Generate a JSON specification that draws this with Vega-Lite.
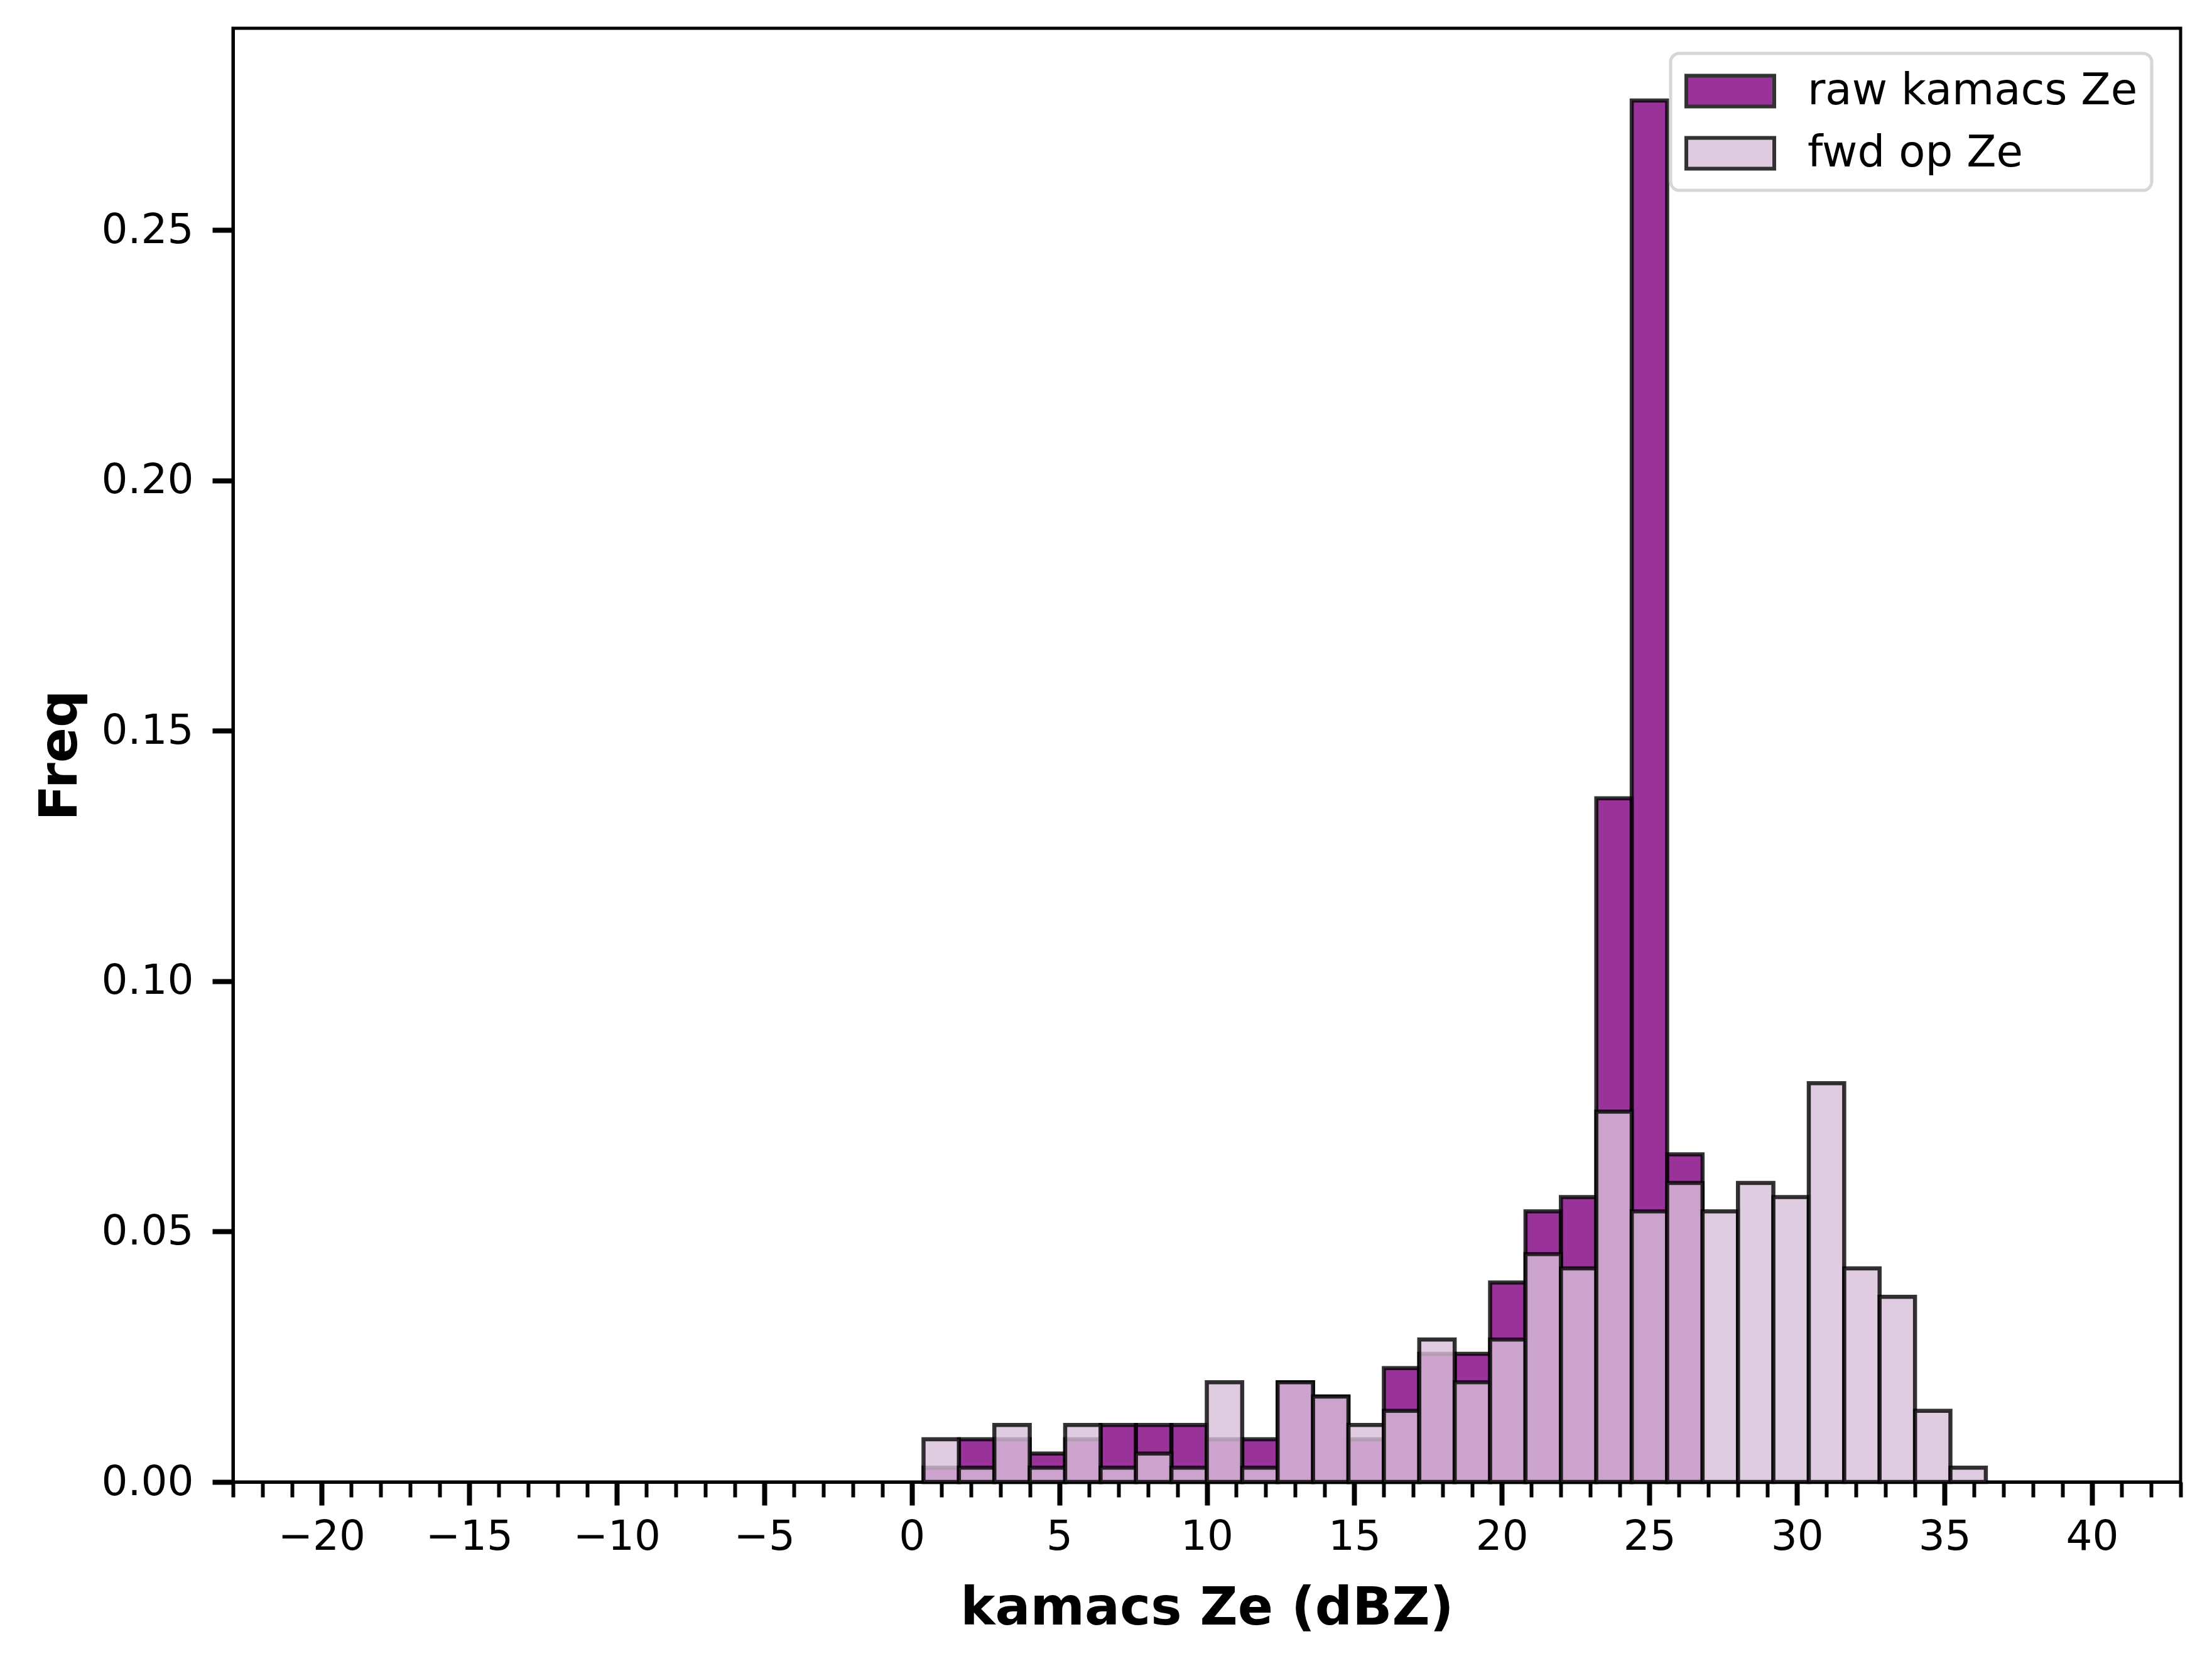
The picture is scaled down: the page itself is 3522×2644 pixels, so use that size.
{
  "$schema": "https://vega.github.io/schema/vega-lite/v6.json",
  "autosize": "none",
  "width": 3101,
  "height": 2314,
  "padding": {"left": 371, "top": 45, "right": 50, "bottom": 285},
  "background": "white",
  "datasets": {
    "raw": [
      {"series": "raw kamacs Ze", "start": 0.4, "end": 1.6, "freq": 0.002844},
      {"series": "raw kamacs Ze", "start": 1.6, "end": 2.8, "freq": 0.008532},
      {"series": "raw kamacs Ze", "start": 2.8, "end": 4.0, "freq": 0.008532},
      {"series": "raw kamacs Ze", "start": 4.0, "end": 5.2, "freq": 0.005688},
      {"series": "raw kamacs Ze", "start": 5.2, "end": 6.4, "freq": 0.008532},
      {"series": "raw kamacs Ze", "start": 6.4, "end": 7.6, "freq": 0.011377},
      {"series": "raw kamacs Ze", "start": 7.6, "end": 8.8, "freq": 0.011377},
      {"series": "raw kamacs Ze", "start": 8.8, "end": 10.0, "freq": 0.011377},
      {"series": "raw kamacs Ze", "start": 10.0, "end": 11.2, "freq": 0.008532},
      {"series": "raw kamacs Ze", "start": 11.2, "end": 12.4, "freq": 0.008532},
      {"series": "raw kamacs Ze", "start": 12.4, "end": 13.6, "freq": 0.019909},
      {"series": "raw kamacs Ze", "start": 13.6, "end": 14.8, "freq": 0.017065},
      {"series": "raw kamacs Ze", "start": 14.8, "end": 16.0, "freq": 0.008532},
      {"series": "raw kamacs Ze", "start": 16.0, "end": 17.2, "freq": 0.022753},
      {"series": "raw kamacs Ze", "start": 17.2, "end": 18.4, "freq": 0.025597},
      {"series": "raw kamacs Ze", "start": 18.4, "end": 19.6, "freq": 0.025597},
      {"series": "raw kamacs Ze", "start": 19.6, "end": 20.8, "freq": 0.039818},
      {"series": "raw kamacs Ze", "start": 20.8, "end": 22.0, "freq": 0.054039},
      {"series": "raw kamacs Ze", "start": 22.0, "end": 23.2, "freq": 0.056883},
      {"series": "raw kamacs Ze", "start": 23.2, "end": 24.4, "freq": 0.136519},
      {"series": "raw kamacs Ze", "start": 24.4, "end": 25.6, "freq": 0.275882},
      {"series": "raw kamacs Ze", "start": 25.6, "end": 26.8, "freq": 0.065415}
    ],
    "fwd": [
      {"series": "fwd op Ze", "start": 0.4, "end": 1.6, "freq": 0.008532},
      {"series": "fwd op Ze", "start": 1.6, "end": 2.8, "freq": 0.002844},
      {"series": "fwd op Ze", "start": 2.8, "end": 4.0, "freq": 0.011377},
      {"series": "fwd op Ze", "start": 4.0, "end": 5.2, "freq": 0.002844},
      {"series": "fwd op Ze", "start": 5.2, "end": 6.4, "freq": 0.011377},
      {"series": "fwd op Ze", "start": 6.4, "end": 7.6, "freq": 0.002844},
      {"series": "fwd op Ze", "start": 7.6, "end": 8.8, "freq": 0.005688},
      {"series": "fwd op Ze", "start": 8.8, "end": 10.0, "freq": 0.002844},
      {"series": "fwd op Ze", "start": 10.0, "end": 11.2, "freq": 0.019909},
      {"series": "fwd op Ze", "start": 11.2, "end": 12.4, "freq": 0.002844},
      {"series": "fwd op Ze", "start": 12.4, "end": 13.6, "freq": 0.019909},
      {"series": "fwd op Ze", "start": 13.6, "end": 14.8, "freq": 0.017065},
      {"series": "fwd op Ze", "start": 14.8, "end": 16.0, "freq": 0.011377},
      {"series": "fwd op Ze", "start": 16.0, "end": 17.2, "freq": 0.014221},
      {"series": "fwd op Ze", "start": 17.2, "end": 18.4, "freq": 0.028441},
      {"series": "fwd op Ze", "start": 18.4, "end": 19.6, "freq": 0.019909},
      {"series": "fwd op Ze", "start": 19.6, "end": 20.8, "freq": 0.028441},
      {"series": "fwd op Ze", "start": 20.8, "end": 22.0, "freq": 0.045506},
      {"series": "fwd op Ze", "start": 22.0, "end": 23.2, "freq": 0.042662},
      {"series": "fwd op Ze", "start": 23.2, "end": 24.4, "freq": 0.073948},
      {"series": "fwd op Ze", "start": 24.4, "end": 25.6, "freq": 0.054039},
      {"series": "fwd op Ze", "start": 25.6, "end": 26.8, "freq": 0.059727},
      {"series": "fwd op Ze", "start": 26.8, "end": 28.0, "freq": 0.054039},
      {"series": "fwd op Ze", "start": 28.0, "end": 29.2, "freq": 0.059727},
      {"series": "fwd op Ze", "start": 29.2, "end": 30.4, "freq": 0.056883},
      {"series": "fwd op Ze", "start": 30.4, "end": 31.6, "freq": 0.079636},
      {"series": "fwd op Ze", "start": 31.6, "end": 32.8, "freq": 0.042662},
      {"series": "fwd op Ze", "start": 32.8, "end": 34.0, "freq": 0.036974},
      {"series": "fwd op Ze", "start": 34.0, "end": 35.2, "freq": 0.014221},
      {"series": "fwd op Ze", "start": 35.2, "end": 36.4, "freq": 0.002844}
    ]
  },
  "layer": [
    {
      "data": {"name": "raw"},
      "mark": {"type": "rect", "fillOpacity": 0.8, "stroke": "black", "strokeOpacity": 0.8, "strokeWidth": 6.5},
      "encoding": {
        "x": {
          "field": "start",
          "type": "quantitative",
          "scale": {"domain": [-23, 43], "nice": false, "zero": false},
          "axis": {
            "orient": "bottom",
            "values": [-20, -15, -10, -5, 0, 5, 10, 15, 20, 25, 30, 35, 40],
            "title": "kamacs Ze (dBZ)",
            "tickSize": 37,
            "tickWidth": 8,
            "labelPadding": 18,
            "titlePadding": 40
          }
        },
        "x2": {"field": "end"},
        "y": {
          "field": "freq",
          "type": "quantitative",
          "scale": {"domain": [0, 0.2903], "nice": false},
          "axis": {
            "values": [0, 0.05, 0.1, 0.15, 0.2, 0.25],
            "format": ".2f",
            "title": "Freq",
            "tickSize": 33,
            "tickWidth": 8,
            "labelPadding": 30,
            "titlePadding": 33
          }
        },
        "y2": {"datum": 0},
        "color": {
          "field": "series",
          "type": "nominal",
          "scale": {"domain": ["raw kamacs Ze", "fwd op Ze"], "range": ["#800080", "#d8bfd8"]},
          "legend": {
            "title": null,
            "orient": "none",
            "legendX": 2289,
            "legendY": 40
          }
        }
      }
    },
    {
      "data": {"name": "fwd"},
      "mark": {"type": "rect", "fillOpacity": 0.8, "stroke": "black", "strokeOpacity": 0.8, "strokeWidth": 6.5},
      "encoding": {
        "x": {
          "field": "start",
          "type": "quantitative",
          "axis": {
            "orient": "bottom",
            "values": [-23, -22, -21, -19, -18, -17, -16, -14, -13, -12, -11, -9, -8, -7, -6, -4, -3, -2, -1, 1, 2, 3, 4, 6, 7, 8, 9, 11, 12, 13, 14, 16, 17, 18, 19, 21, 22, 23, 24, 26, 27, 28, 29, 31, 32, 33, 34, 36, 37, 38, 39, 41, 42, 43],
            "labels": false,
            "domain": false,
            "title": null,
            "tickSize": 24,
            "tickWidth": 6
          }
        },
        "x2": {"field": "end"},
        "y": {"field": "freq", "type": "quantitative"},
        "y2": {"datum": 0},
        "color": {"field": "series", "type": "nominal"}
      }
    }
  ],
  "resolve": {"axis": {"x": "independent"}},
  "config": {
    "font": "DejaVu Sans",
    "view": {"stroke": "black", "strokeWidth": 5},
    "axis": {
      "grid": false,
      "zindex": 1,
      "domainColor": "black",
      "domainWidth": 5,
      "tickColor": "black",
      "labelColor": "black",
      "labelFont": "DejaVu Sans",
      "labelFontSize": 66,
      "labelFlush": false,
      "labelOverlap": false,
      "titleColor": "black",
      "titleFont": "DejaVu Sans",
      "titleFontSize": 83,
      "titleFontWeight": "bold"
    },
    "legend": {
      "symbolType": "M-1,-0.7H3V0.7H-1Z",
      "symbolSize": 4900,
      "symbolStrokeColor": "black",
      "symbolStrokeWidth": 6,
      "symbolOpacity": 0.8,
      "labelFont": "DejaVu Sans",
      "labelFontSize": 69,
      "labelColor": "black",
      "labelLimit": 2000,
      "labelOffset": 120,
      "padding": 22,
      "rowPadding": 24,
      "strokeColor": "#d6d6d6",
      "strokeWidth": 5,
      "cornerRadius": 14,
      "fillColor": "rgba(255,255,255,0.8)"
    }
  }
}
